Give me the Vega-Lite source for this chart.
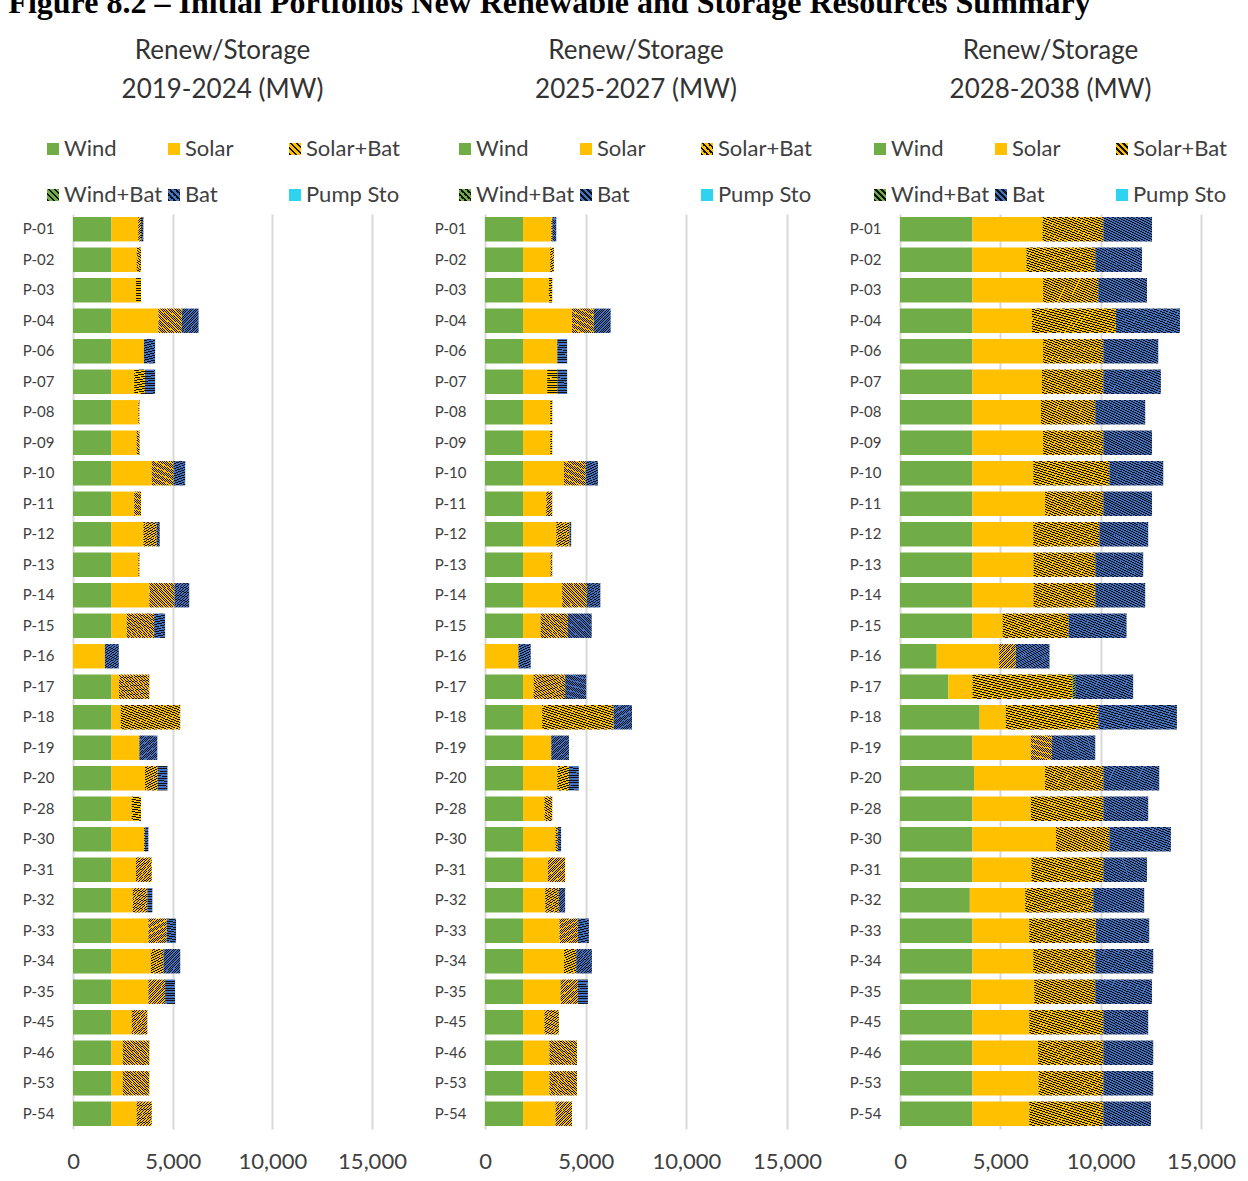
{
"$schema": "https://vega.github.io/schema/vega-lite/v6.json",
"padding": {"left": 8, "top": -13, "right": 10, "bottom": 0},
"background": "white",
"params": [
{"name": "gY", "expr": "{gradient:'linear',x1:0,y1:1,x2:1,y2:0,stops:[{offset:0,color:'#FFC000'},{offset:0.03,color:'#FFC000'},{offset:0.03,color:'#111111'},{offset:0.05,color:'#111111'},{offset:0.05,color:'#FFC000'},{offset:0.08,color:'#FFC000'},{offset:0.08,color:'#111111'},{offset:0.1,color:'#111111'},{offset:0.1,color:'#FFC000'},{offset:0.13,color:'#FFC000'},{offset:0.13,color:'#111111'},{offset:0.15,color:'#111111'},{offset:0.15,color:'#FFC000'},{offset:0.18,color:'#FFC000'},{offset:0.18,color:'#111111'},{offset:0.2,color:'#111111'},{offset:0.2,color:'#FFC000'},{offset:0.23,color:'#FFC000'},{offset:0.23,color:'#111111'},{offset:0.25,color:'#111111'},{offset:0.25,color:'#FFC000'},{offset:0.28,color:'#FFC000'},{offset:0.28,color:'#111111'},{offset:0.3,color:'#111111'},{offset:0.3,color:'#FFC000'},{offset:0.33,color:'#FFC000'},{offset:0.33,color:'#111111'},{offset:0.35,color:'#111111'},{offset:0.35,color:'#FFC000'},{offset:0.38,color:'#FFC000'},{offset:0.38,color:'#111111'},{offset:0.4,color:'#111111'},{offset:0.4,color:'#FFC000'},{offset:0.43,color:'#FFC000'},{offset:0.43,color:'#111111'},{offset:0.45,color:'#111111'},{offset:0.45,color:'#FFC000'},{offset:0.48,color:'#FFC000'},{offset:0.48,color:'#111111'},{offset:0.5,color:'#111111'},{offset:0.5,color:'#FFC000'},{offset:0.53,color:'#FFC000'},{offset:0.53,color:'#111111'},{offset:0.55,color:'#111111'},{offset:0.55,color:'#FFC000'},{offset:0.58,color:'#FFC000'},{offset:0.58,color:'#111111'},{offset:0.6,color:'#111111'},{offset:0.6,color:'#FFC000'},{offset:0.63,color:'#FFC000'},{offset:0.63,color:'#111111'},{offset:0.65,color:'#111111'},{offset:0.65,color:'#FFC000'},{offset:0.68,color:'#FFC000'},{offset:0.68,color:'#111111'},{offset:0.7,color:'#111111'},{offset:0.7,color:'#FFC000'},{offset:0.73,color:'#FFC000'},{offset:0.73,color:'#111111'},{offset:0.75,color:'#111111'},{offset:0.75,color:'#FFC000'},{offset:0.78,color:'#FFC000'},{offset:0.78,color:'#111111'},{offset:0.8,color:'#111111'},{offset:0.8,color:'#FFC000'},{offset:0.83,color:'#FFC000'},{offset:0.83,color:'#111111'},{offset:0.85,color:'#111111'},{offset:0.85,color:'#FFC000'},{offset:0.88,color:'#FFC000'},{offset:0.88,color:'#111111'},{offset:0.9,color:'#111111'},{offset:0.9,color:'#FFC000'},{offset:0.93,color:'#FFC000'},{offset:0.93,color:'#111111'},{offset:0.95,color:'#111111'},{offset:0.95,color:'#FFC000'},{offset:0.98,color:'#FFC000'},{offset:0.98,color:'#111111'},{offset:1,color:'#111111'}]}"},
{"name": "gG", "expr": "{gradient:'linear',x1:0,y1:1,x2:1,y2:0,stops:[{offset:0,color:'#70AD47'},{offset:0.03,color:'#70AD47'},{offset:0.03,color:'#111111'},{offset:0.05,color:'#111111'},{offset:0.05,color:'#70AD47'},{offset:0.08,color:'#70AD47'},{offset:0.08,color:'#111111'},{offset:0.1,color:'#111111'},{offset:0.1,color:'#70AD47'},{offset:0.13,color:'#70AD47'},{offset:0.13,color:'#111111'},{offset:0.15,color:'#111111'},{offset:0.15,color:'#70AD47'},{offset:0.18,color:'#70AD47'},{offset:0.18,color:'#111111'},{offset:0.2,color:'#111111'},{offset:0.2,color:'#70AD47'},{offset:0.23,color:'#70AD47'},{offset:0.23,color:'#111111'},{offset:0.25,color:'#111111'},{offset:0.25,color:'#70AD47'},{offset:0.28,color:'#70AD47'},{offset:0.28,color:'#111111'},{offset:0.3,color:'#111111'},{offset:0.3,color:'#70AD47'},{offset:0.33,color:'#70AD47'},{offset:0.33,color:'#111111'},{offset:0.35,color:'#111111'},{offset:0.35,color:'#70AD47'},{offset:0.38,color:'#70AD47'},{offset:0.38,color:'#111111'},{offset:0.4,color:'#111111'},{offset:0.4,color:'#70AD47'},{offset:0.43,color:'#70AD47'},{offset:0.43,color:'#111111'},{offset:0.45,color:'#111111'},{offset:0.45,color:'#70AD47'},{offset:0.48,color:'#70AD47'},{offset:0.48,color:'#111111'},{offset:0.5,color:'#111111'},{offset:0.5,color:'#70AD47'},{offset:0.53,color:'#70AD47'},{offset:0.53,color:'#111111'},{offset:0.55,color:'#111111'},{offset:0.55,color:'#70AD47'},{offset:0.58,color:'#70AD47'},{offset:0.58,color:'#111111'},{offset:0.6,color:'#111111'},{offset:0.6,color:'#70AD47'},{offset:0.63,color:'#70AD47'},{offset:0.63,color:'#111111'},{offset:0.65,color:'#111111'},{offset:0.65,color:'#70AD47'},{offset:0.68,color:'#70AD47'},{offset:0.68,color:'#111111'},{offset:0.7,color:'#111111'},{offset:0.7,color:'#70AD47'},{offset:0.73,color:'#70AD47'},{offset:0.73,color:'#111111'},{offset:0.75,color:'#111111'},{offset:0.75,color:'#70AD47'},{offset:0.78,color:'#70AD47'},{offset:0.78,color:'#111111'},{offset:0.8,color:'#111111'},{offset:0.8,color:'#70AD47'},{offset:0.83,color:'#70AD47'},{offset:0.83,color:'#111111'},{offset:0.85,color:'#111111'},{offset:0.85,color:'#70AD47'},{offset:0.88,color:'#70AD47'},{offset:0.88,color:'#111111'},{offset:0.9,color:'#111111'},{offset:0.9,color:'#70AD47'},{offset:0.93,color:'#70AD47'},{offset:0.93,color:'#111111'},{offset:0.95,color:'#111111'},{offset:0.95,color:'#70AD47'},{offset:0.98,color:'#70AD47'},{offset:0.98,color:'#111111'},{offset:1,color:'#111111'}]}"},
{"name": "gB", "expr": "{gradient:'linear',x1:0,y1:1,x2:1,y2:0,stops:[{offset:0,color:'#4472C4'},{offset:0.03,color:'#4472C4'},{offset:0.03,color:'#111111'},{offset:0.05,color:'#111111'},{offset:0.05,color:'#4472C4'},{offset:0.08,color:'#4472C4'},{offset:0.08,color:'#111111'},{offset:0.1,color:'#111111'},{offset:0.1,color:'#4472C4'},{offset:0.13,color:'#4472C4'},{offset:0.13,color:'#111111'},{offset:0.15,color:'#111111'},{offset:0.15,color:'#4472C4'},{offset:0.18,color:'#4472C4'},{offset:0.18,color:'#111111'},{offset:0.2,color:'#111111'},{offset:0.2,color:'#4472C4'},{offset:0.23,color:'#4472C4'},{offset:0.23,color:'#111111'},{offset:0.25,color:'#111111'},{offset:0.25,color:'#4472C4'},{offset:0.28,color:'#4472C4'},{offset:0.28,color:'#111111'},{offset:0.3,color:'#111111'},{offset:0.3,color:'#4472C4'},{offset:0.33,color:'#4472C4'},{offset:0.33,color:'#111111'},{offset:0.35,color:'#111111'},{offset:0.35,color:'#4472C4'},{offset:0.38,color:'#4472C4'},{offset:0.38,color:'#111111'},{offset:0.4,color:'#111111'},{offset:0.4,color:'#4472C4'},{offset:0.43,color:'#4472C4'},{offset:0.43,color:'#111111'},{offset:0.45,color:'#111111'},{offset:0.45,color:'#4472C4'},{offset:0.48,color:'#4472C4'},{offset:0.48,color:'#111111'},{offset:0.5,color:'#111111'},{offset:0.5,color:'#4472C4'},{offset:0.53,color:'#4472C4'},{offset:0.53,color:'#111111'},{offset:0.55,color:'#111111'},{offset:0.55,color:'#4472C4'},{offset:0.58,color:'#4472C4'},{offset:0.58,color:'#111111'},{offset:0.6,color:'#111111'},{offset:0.6,color:'#4472C4'},{offset:0.63,color:'#4472C4'},{offset:0.63,color:'#111111'},{offset:0.65,color:'#111111'},{offset:0.65,color:'#4472C4'},{offset:0.68,color:'#4472C4'},{offset:0.68,color:'#111111'},{offset:0.7,color:'#111111'},{offset:0.7,color:'#4472C4'},{offset:0.73,color:'#4472C4'},{offset:0.73,color:'#111111'},{offset:0.75,color:'#111111'},{offset:0.75,color:'#4472C4'},{offset:0.78,color:'#4472C4'},{offset:0.78,color:'#111111'},{offset:0.8,color:'#111111'},{offset:0.8,color:'#4472C4'},{offset:0.83,color:'#4472C4'},{offset:0.83,color:'#111111'},{offset:0.85,color:'#111111'},{offset:0.85,color:'#4472C4'},{offset:0.88,color:'#4472C4'},{offset:0.88,color:'#111111'},{offset:0.9,color:'#111111'},{offset:0.9,color:'#4472C4'},{offset:0.93,color:'#4472C4'},{offset:0.93,color:'#111111'},{offset:0.95,color:'#111111'},{offset:0.95,color:'#4472C4'},{offset:0.98,color:'#4472C4'},{offset:0.98,color:'#111111'},{offset:1,color:'#111111'}]}"}
],
"title": {"text": "Figure 8.2 – Initial Portfolios New Renewable and Storage Resources Summary", "anchor": "start", "frame": "bounds", "font": "Liberation Serif", "fontSize": 32, "fontWeight": "bold", "color": "#000000", "dx": -14, "offset": 18},
"datasets": {
"d1": [
{"id":"P-01","t":"Wind","v":1930},{"id":"P-01","t":"Solar","v":1340},{"id":"P-01","t":"Solar+Bat","v":140},{"id":"P-01","t":"Bat","v":120},
{"id":"P-02","t":"Wind","v":1930},{"id":"P-02","t":"Solar","v":1260},{"id":"P-02","t":"Solar+Bat","v":220},
{"id":"P-03","t":"Wind","v":1930},{"id":"P-03","t":"Solar","v":1230},{"id":"P-03","t":"Solar+Bat","v":250},
{"id":"P-04","t":"Wind","v":1930},{"id":"P-04","t":"Solar","v":2350},{"id":"P-04","t":"Solar+Bat","v":1180},{"id":"P-04","t":"Bat","v":840},
{"id":"P-06","t":"Wind","v":1930},{"id":"P-06","t":"Solar","v":1630},{"id":"P-06","t":"Bat","v":560},
{"id":"P-07","t":"Wind","v":1930},{"id":"P-07","t":"Solar","v":1140},{"id":"P-07","t":"Solar+Bat","v":540},{"id":"P-07","t":"Bat","v":510},
{"id":"P-08","t":"Wind","v":1930},{"id":"P-08","t":"Solar","v":1350},{"id":"P-08","t":"Solar+Bat","v":50},
{"id":"P-09","t":"Wind","v":1930},{"id":"P-09","t":"Solar","v":1260},{"id":"P-09","t":"Solar+Bat","v":150},
{"id":"P-10","t":"Wind","v":1930},{"id":"P-10","t":"Solar","v":2020},{"id":"P-10","t":"Solar+Bat","v":1090},{"id":"P-10","t":"Bat","v":590},
{"id":"P-11","t":"Wind","v":1930},{"id":"P-11","t":"Solar","v":1140},{"id":"P-11","t":"Solar+Bat","v":340},
{"id":"P-12","t":"Wind","v":1930},{"id":"P-12","t":"Solar","v":1600},{"id":"P-12","t":"Solar+Bat","v":670},{"id":"P-12","t":"Bat","v":150},
{"id":"P-13","t":"Wind","v":1930},{"id":"P-13","t":"Solar","v":1350},{"id":"P-13","t":"Solar+Bat","v":50},
{"id":"P-14","t":"Wind","v":1930},{"id":"P-14","t":"Solar","v":1900},{"id":"P-14","t":"Solar+Bat","v":1260},{"id":"P-14","t":"Bat","v":740},
{"id":"P-15","t":"Wind","v":1930},{"id":"P-15","t":"Solar","v":760},{"id":"P-15","t":"Solar+Bat","v":1380},{"id":"P-15","t":"Bat","v":550},
{"id":"P-16","t":"Solar","v":1600},{"id":"P-16","t":"Bat","v":700},
{"id":"P-17","t":"Wind","v":1930},{"id":"P-17","t":"Solar","v":370},{"id":"P-17","t":"Solar+Bat","v":1530},
{"id":"P-18","t":"Wind","v":1930},{"id":"P-18","t":"Solar","v":460},{"id":"P-18","t":"Solar+Bat","v":2990},
{"id":"P-19","t":"Wind","v":1930},{"id":"P-19","t":"Solar","v":1400},{"id":"P-19","t":"Bat","v":900},
{"id":"P-20","t":"Wind","v":1930},{"id":"P-20","t":"Solar","v":1680},{"id":"P-20","t":"Solar+Bat","v":640},{"id":"P-20","t":"Bat","v":490},
{"id":"P-28","t":"Wind","v":1930},{"id":"P-28","t":"Solar","v":1010},{"id":"P-28","t":"Solar+Bat","v":470},
{"id":"P-30","t":"Wind","v":1930},{"id":"P-30","t":"Solar","v":1630},{"id":"P-30","t":"Solar+Bat","v":50},{"id":"P-30","t":"Bat","v":170},
{"id":"P-31","t":"Wind","v":1930},{"id":"P-31","t":"Solar","v":1230},{"id":"P-31","t":"Solar+Bat","v":790},
{"id":"P-32","t":"Wind","v":1930},{"id":"P-32","t":"Solar","v":1060},{"id":"P-32","t":"Solar+Bat","v":740},{"id":"P-32","t":"Bat","v":250},
{"id":"P-33","t":"Wind","v":1930},{"id":"P-33","t":"Solar","v":1850},{"id":"P-33","t":"Solar+Bat","v":920},{"id":"P-33","t":"Bat","v":470},
{"id":"P-34","t":"Wind","v":1930},{"id":"P-34","t":"Solar","v":1970},{"id":"P-34","t":"Solar+Bat","v":640},{"id":"P-34","t":"Bat","v":840},
{"id":"P-35","t":"Wind","v":1930},{"id":"P-35","t":"Solar","v":1850},{"id":"P-35","t":"Solar+Bat","v":840},{"id":"P-35","t":"Bat","v":500},
{"id":"P-45","t":"Wind","v":1930},{"id":"P-45","t":"Solar","v":1010},{"id":"P-45","t":"Solar+Bat","v":790},
{"id":"P-46","t":"Wind","v":1930},{"id":"P-46","t":"Solar","v":560},{"id":"P-46","t":"Solar+Bat","v":1340},
{"id":"P-53","t":"Wind","v":1930},{"id":"P-53","t":"Solar","v":560},{"id":"P-53","t":"Solar+Bat","v":1340},
{"id":"P-54","t":"Wind","v":1930},{"id":"P-54","t":"Solar","v":1260},{"id":"P-54","t":"Solar+Bat","v":760}
],
"d2": [
{"id":"P-01","t":"Wind","v":1890},{"id":"P-01","t":"Solar","v":1400},{"id":"P-01","t":"Solar+Bat","v":50},{"id":"P-01","t":"Bat","v":200},
{"id":"P-02","t":"Wind","v":1890},{"id":"P-02","t":"Solar","v":1350},{"id":"P-02","t":"Solar+Bat","v":180},
{"id":"P-03","t":"Wind","v":1890},{"id":"P-03","t":"Solar","v":1280},{"id":"P-03","t":"Solar+Bat","v":170},
{"id":"P-04","t":"Wind","v":1890},{"id":"P-04","t":"Solar","v":2430},{"id":"P-04","t":"Solar+Bat","v":1080},{"id":"P-04","t":"Bat","v":840},
{"id":"P-06","t":"Wind","v":1890},{"id":"P-06","t":"Solar","v":1700},{"id":"P-06","t":"Bat","v":490},
{"id":"P-07","t":"Wind","v":1890},{"id":"P-07","t":"Solar","v":1200},{"id":"P-07","t":"Solar+Bat","v":500},{"id":"P-07","t":"Bat","v":490},
{"id":"P-08","t":"Wind","v":1890},{"id":"P-08","t":"Solar","v":1350},{"id":"P-08","t":"Solar+Bat","v":100},
{"id":"P-09","t":"Wind","v":1890},{"id":"P-09","t":"Solar","v":1350},{"id":"P-09","t":"Solar+Bat","v":100},
{"id":"P-10","t":"Wind","v":1890},{"id":"P-10","t":"Solar","v":2030},{"id":"P-10","t":"Solar+Bat","v":1080},{"id":"P-10","t":"Bat","v":610},
{"id":"P-11","t":"Wind","v":1890},{"id":"P-11","t":"Solar","v":1150},{"id":"P-11","t":"Solar+Bat","v":300},
{"id":"P-12","t":"Wind","v":1890},{"id":"P-12","t":"Solar","v":1650},{"id":"P-12","t":"Solar+Bat","v":660},{"id":"P-12","t":"Bat","v":80},
{"id":"P-13","t":"Wind","v":1890},{"id":"P-13","t":"Solar","v":1360},{"id":"P-13","t":"Solar+Bat","v":90},
{"id":"P-14","t":"Wind","v":1890},{"id":"P-14","t":"Solar","v":1940},{"id":"P-14","t":"Solar+Bat","v":1230},{"id":"P-14","t":"Bat","v":670},
{"id":"P-15","t":"Wind","v":1890},{"id":"P-15","t":"Solar","v":870},{"id":"P-15","t":"Solar+Bat","v":1360},{"id":"P-15","t":"Bat","v":1180},
{"id":"P-16","t":"Solar","v":1660},{"id":"P-16","t":"Bat","v":610},
{"id":"P-17","t":"Wind","v":1890},{"id":"P-17","t":"Solar","v":520},{"id":"P-17","t":"Solar+Bat","v":1570},{"id":"P-17","t":"Bat","v":1050},
{"id":"P-18","t":"Wind","v":1890},{"id":"P-18","t":"Solar","v":950},{"id":"P-18","t":"Solar+Bat","v":3550},{"id":"P-18","t":"Bat","v":910},
{"id":"P-19","t":"Wind","v":1890},{"id":"P-19","t":"Solar","v":1400},{"id":"P-19","t":"Bat","v":880},
{"id":"P-20","t":"Wind","v":1890},{"id":"P-20","t":"Solar","v":1700},{"id":"P-20","t":"Solar+Bat","v":580},{"id":"P-20","t":"Bat","v":490},
{"id":"P-28","t":"Wind","v":1890},{"id":"P-28","t":"Solar","v":1060},{"id":"P-28","t":"Solar+Bat","v":390},
{"id":"P-30","t":"Wind","v":1890},{"id":"P-30","t":"Solar","v":1610},{"id":"P-30","t":"Solar+Bat","v":120},{"id":"P-30","t":"Bat","v":160},
{"id":"P-31","t":"Wind","v":1890},{"id":"P-31","t":"Solar","v":1230},{"id":"P-31","t":"Solar+Bat","v":860},
{"id":"P-32","t":"Wind","v":1890},{"id":"P-32","t":"Solar","v":1100},{"id":"P-32","t":"Solar+Bat","v":680},{"id":"P-32","t":"Bat","v":310},
{"id":"P-33","t":"Wind","v":1890},{"id":"P-33","t":"Solar","v":1810},{"id":"P-33","t":"Solar+Bat","v":910},{"id":"P-33","t":"Bat","v":550},
{"id":"P-34","t":"Wind","v":1890},{"id":"P-34","t":"Solar","v":2030},{"id":"P-34","t":"Solar+Bat","v":610},{"id":"P-34","t":"Bat","v":780},
{"id":"P-35","t":"Wind","v":1890},{"id":"P-35","t":"Solar","v":1860},{"id":"P-35","t":"Solar+Bat","v":860},{"id":"P-35","t":"Bat","v":500},
{"id":"P-45","t":"Wind","v":1890},{"id":"P-45","t":"Solar","v":1060},{"id":"P-45","t":"Solar+Bat","v":720},
{"id":"P-46","t":"Wind","v":1890},{"id":"P-46","t":"Solar","v":1310},{"id":"P-46","t":"Solar+Bat","v":1370},
{"id":"P-53","t":"Wind","v":1890},{"id":"P-53","t":"Solar","v":1310},{"id":"P-53","t":"Solar+Bat","v":1370},
{"id":"P-54","t":"Wind","v":1890},{"id":"P-54","t":"Solar","v":1610},{"id":"P-54","t":"Solar+Bat","v":820}
],
"d3": [
{"id":"P-01","t":"Wind","v":3610},{"id":"P-01","t":"Solar","v":3490},{"id":"P-01","t":"Solar+Bat","v":3030},{"id":"P-01","t":"Bat","v":2430},
{"id":"P-02","t":"Wind","v":3610},{"id":"P-02","t":"Solar","v":2690},{"id":"P-02","t":"Solar+Bat","v":3430},{"id":"P-02","t":"Bat","v":2330},
{"id":"P-03","t":"Wind","v":3610},{"id":"P-03","t":"Solar","v":3520},{"id":"P-03","t":"Solar+Bat","v":2750},{"id":"P-03","t":"Bat","v":2430},
{"id":"P-04","t":"Wind","v":3610},{"id":"P-04","t":"Solar","v":2960},{"id":"P-04","t":"Solar+Bat","v":4190},{"id":"P-04","t":"Bat","v":3190},
{"id":"P-06","t":"Wind","v":3610},{"id":"P-06","t":"Solar","v":3520},{"id":"P-06","t":"Solar+Bat","v":3000},{"id":"P-06","t":"Bat","v":2740},
{"id":"P-07","t":"Wind","v":3610},{"id":"P-07","t":"Solar","v":3460},{"id":"P-07","t":"Solar+Bat","v":3060},{"id":"P-07","t":"Bat","v":2870},
{"id":"P-08","t":"Wind","v":3610},{"id":"P-08","t":"Solar","v":3410},{"id":"P-08","t":"Solar+Bat","v":2710},{"id":"P-08","t":"Bat","v":2490},
{"id":"P-09","t":"Wind","v":3610},{"id":"P-09","t":"Solar","v":3520},{"id":"P-09","t":"Solar+Bat","v":3000},{"id":"P-09","t":"Bat","v":2430},
{"id":"P-10","t":"Wind","v":3610},{"id":"P-10","t":"Solar","v":3030},{"id":"P-10","t":"Solar+Bat","v":3790},{"id":"P-10","t":"Bat","v":2690},
{"id":"P-11","t":"Wind","v":3610},{"id":"P-11","t":"Solar","v":3620},{"id":"P-11","t":"Solar+Bat","v":2900},{"id":"P-11","t":"Bat","v":2430},
{"id":"P-12","t":"Wind","v":3610},{"id":"P-12","t":"Solar","v":3030},{"id":"P-12","t":"Solar+Bat","v":3290},{"id":"P-12","t":"Bat","v":2440},
{"id":"P-13","t":"Wind","v":3610},{"id":"P-13","t":"Solar","v":3040},{"id":"P-13","t":"Solar+Bat","v":3080},{"id":"P-13","t":"Bat","v":2390},
{"id":"P-14","t":"Wind","v":3610},{"id":"P-14","t":"Solar","v":3040},{"id":"P-14","t":"Solar+Bat","v":3080},{"id":"P-14","t":"Bat","v":2490},
{"id":"P-15","t":"Wind","v":3610},{"id":"P-15","t":"Solar","v":1500},{"id":"P-15","t":"Solar+Bat","v":3290},{"id":"P-15","t":"Bat","v":2890},
{"id":"P-16","t":"Wind","v":1830},{"id":"P-16","t":"Solar","v":3110},{"id":"P-16","t":"Solar+Bat","v":830},{"id":"P-16","t":"Bat","v":1680},
{"id":"P-17","t":"Wind","v":2410},{"id":"P-17","t":"Solar","v":1200},{"id":"P-17","t":"Solar+Bat","v":4990},{"id":"P-17","t":"Wind+Bat","v":130},{"id":"P-17","t":"Bat","v":2890},
{"id":"P-18","t":"Wind","v":3970},{"id":"P-18","t":"Solar","v":1300},{"id":"P-18","t":"Solar+Bat","v":4610},{"id":"P-18","t":"Bat","v":3920},
{"id":"P-19","t":"Wind","v":3610},{"id":"P-19","t":"Solar","v":2910},{"id":"P-19","t":"Solar+Bat","v":1050},{"id":"P-19","t":"Bat","v":2160},
{"id":"P-20","t":"Wind","v":3690},{"id":"P-20","t":"Solar","v":3530},{"id":"P-20","t":"Solar+Bat","v":2910},{"id":"P-20","t":"Bat","v":2790},
{"id":"P-28","t":"Wind","v":3610},{"id":"P-28","t":"Solar","v":2910},{"id":"P-28","t":"Solar+Bat","v":3610},{"id":"P-28","t":"Bat","v":2240},
{"id":"P-30","t":"Wind","v":3610},{"id":"P-30","t":"Solar","v":4160},{"id":"P-30","t":"Solar+Bat","v":2660},{"id":"P-30","t":"Bat","v":3070},
{"id":"P-31","t":"Wind","v":3610},{"id":"P-31","t":"Solar","v":2940},{"id":"P-31","t":"Solar+Bat","v":3580},{"id":"P-31","t":"Bat","v":2180},
{"id":"P-32","t":"Wind","v":3480},{"id":"P-32","t":"Solar","v":2760},{"id":"P-32","t":"Solar+Bat","v":3390},{"id":"P-32","t":"Bat","v":2540},
{"id":"P-33","t":"Wind","v":3610},{"id":"P-33","t":"Solar","v":2830},{"id":"P-33","t":"Solar+Bat","v":3320},{"id":"P-33","t":"Bat","v":2660},
{"id":"P-34","t":"Wind","v":3610},{"id":"P-34","t":"Solar","v":3030},{"id":"P-34","t":"Solar+Bat","v":3090},{"id":"P-34","t":"Bat","v":2890},
{"id":"P-35","t":"Wind","v":3560},{"id":"P-35","t":"Solar","v":3130},{"id":"P-35","t":"Solar+Bat","v":3040},{"id":"P-35","t":"Bat","v":2830},
{"id":"P-45","t":"Wind","v":3610},{"id":"P-45","t":"Solar","v":2830},{"id":"P-45","t":"Solar+Bat","v":3690},{"id":"P-45","t":"Bat","v":2240},
{"id":"P-46","t":"Wind","v":3610},{"id":"P-46","t":"Solar","v":3270},{"id":"P-46","t":"Solar+Bat","v":3250},{"id":"P-46","t":"Bat","v":2490},
{"id":"P-53","t":"Wind","v":3610},{"id":"P-53","t":"Solar","v":3290},{"id":"P-53","t":"Solar+Bat","v":3230},{"id":"P-53","t":"Bat","v":2490},
{"id":"P-54","t":"Wind","v":3610},{"id":"P-54","t":"Solar","v":2830},{"id":"P-54","t":"Solar+Bat","v":3690},{"id":"P-54","t":"Bat","v":2380}
]
},
"spacing": 113,
"bounds": "flush",
"resolve": {"scale": {"color": "independent", "x": "independent", "y": "independent"}, "legend": {"color": "independent"}},
"hconcat": [
{
"width": 299, "height": 915,
"title": {"text": ["Renew/Storage", "2019-2024 (MW)"]},
"data": {"name": "d1"},
"transform": [{"calculate": "indexof(['Wind','Solar','Solar+Bat','Wind+Bat','Bat','Pump Sto'], datum.t)", "as": "k"}],
"mark": {"type": "bar"},
"encoding": {
"y": {"field": "id", "type": "nominal", "title": null, "scale": {"paddingInner": 0.2, "paddingOuter": 0.1}},
"x": {"field": "v", "type": "quantitative", "stack": "zero", "title": null, "scale": {"domain": [0, 15000], "nice": false}, "axis": {"values": [0, 5000, 10000, 15000], "format": ",.0f"}},
"order": {"field": "k", "type": "quantitative"},
"color": {"field": "t", "type": "nominal",
"scale": {"domain": ["Wind", "Solar", "Solar+Bat", "Wind+Bat", "Bat", "Pump Sto"], "range": ["#70AD47", "#FFC000", {"expr": "gY"}, {"expr": "gG"}, {"expr": "gB"}, "#2ED3F0"]},
"legend": {"orient": "none", "legendX": -31, "legendY": -76}}
}
},
{
"width": 302, "height": 915,
"title": {"text": ["Renew/Storage", "2025-2027 (MW)"]},
"data": {"name": "d2"},
"transform": [{"calculate": "indexof(['Wind','Solar','Solar+Bat','Wind+Bat','Bat','Pump Sto'], datum.t)", "as": "k"}],
"mark": {"type": "bar"},
"encoding": {
"y": {"field": "id", "type": "nominal", "title": null, "scale": {"paddingInner": 0.2, "paddingOuter": 0.1}},
"x": {"field": "v", "type": "quantitative", "stack": "zero", "title": null, "scale": {"domain": [0, 15000], "nice": false}, "axis": {"values": [0, 5000, 10000, 15000], "format": ",.0f"}},
"order": {"field": "k", "type": "quantitative"},
"color": {"field": "t", "type": "nominal",
"scale": {"domain": ["Wind", "Solar", "Solar+Bat", "Wind+Bat", "Bat", "Pump Sto"], "range": ["#70AD47", "#FFC000", {"expr": "gY"}, {"expr": "gG"}, {"expr": "gB"}, "#2ED3F0"]},
"legend": {"orient": "none", "legendX": -31, "legendY": -76}}
}
},
{
"width": 301, "height": 915,
"title": {"text": ["Renew/Storage", "2028-2038 (MW)"]},
"data": {"name": "d3"},
"transform": [{"calculate": "indexof(['Wind','Solar','Solar+Bat','Wind+Bat','Bat','Pump Sto'], datum.t)", "as": "k"}],
"mark": {"type": "bar"},
"encoding": {
"y": {"field": "id", "type": "nominal", "title": null, "scale": {"paddingInner": 0.2, "paddingOuter": 0.1}},
"x": {"field": "v", "type": "quantitative", "stack": "zero", "title": null, "scale": {"domain": [0, 15000], "nice": false}, "axis": {"values": [0, 5000, 10000, 15000], "format": ",.0f"}},
"order": {"field": "k", "type": "quantitative"},
"color": {"field": "t", "type": "nominal",
"scale": {"domain": ["Wind", "Solar", "Solar+Bat", "Wind+Bat", "Bat", "Pump Sto"], "range": ["#70AD47", "#FFC000", {"expr": "gY"}, {"expr": "gG"}, {"expr": "gB"}, "#2ED3F0"]},
"legend": {"orient": "none", "legendX": -31, "legendY": -76}}
}
}
],
"config": {
"view": {"stroke": null},
"font": "Lato",
"title": {"font": "Lato", "fontSize": 26, "fontWeight": "normal", "color": "#333333", "lineHeight": 39, "offset": 35, "anchor": "middle"},
"axisY": {"domain": false, "ticks": false, "grid": false, "labelFont": "Lato", "labelFontSize": 15, "labelColor": "#404040", "labelPadding": 19},
"axisX": {"domain": false, "ticks": false, "grid": true, "gridColor": "#d9d9d9", "gridWidth": 2, "labelFont": "Lato", "labelFontSize": 22, "labelColor": "#404040", "labelPadding": 22, "labelFlush": false},
"legend": {"title": null, "columns": 3, "direction": "horizontal", "symbolType": "square", "symbolSize": 144, "symbolStrokeWidth": 0, "labelFont": "Lato", "labelFontSize": 22, "labelColor": "#404040", "labelOffset": 0, "columnPadding": -3, "rowPadding": 24, "gridAlign": "all", "padding": 0}
}
}
